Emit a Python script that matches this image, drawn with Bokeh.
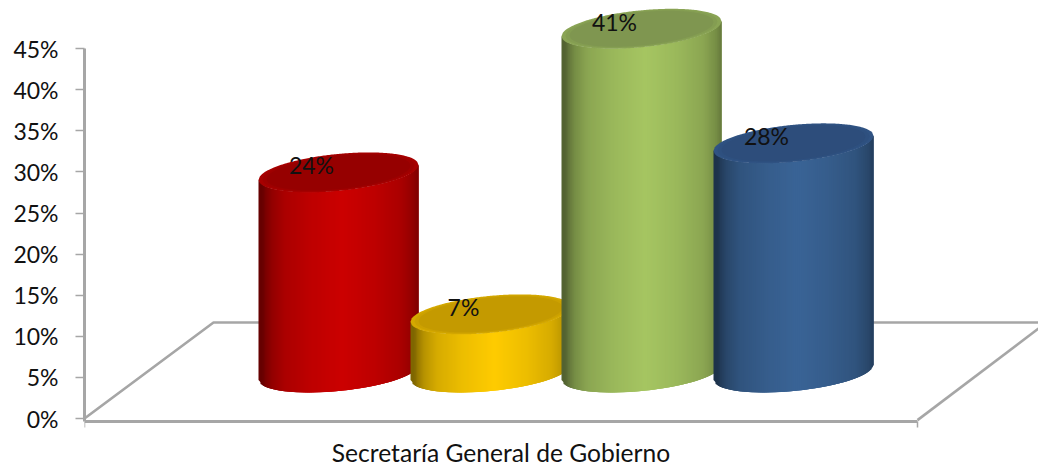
import numpy as np
from bokeh.embed import file_html
from bokeh.models import ColumnDataSource, FixedTicker, LinearAxis, Range1d
from bokeh.plotting import figure
from bokeh.resources import INLINE
from bokeh.core.properties import value

category = "Secretaría General de Gobierno"
shares = [24.1, 7.0, 41.4, 27.6]
y_ticks = [0, 5, 10, 15, 20, 25, 30, 35, 40, 45]

side_colors = [(204, 0, 0), (255, 204, 0), (166, 198, 98), (58, 100, 150)]
top_colors = [(150, 0, 0), (196, 154, 0), (127, 150, 80), (45, 77, 123)]

FONT = "Lato"
FS = "23px"
FS_CAT = "24.6px"
GREY = "#A6A6A6"
TEXT = "#111111"

W, H = 1038, 466
YMIN, YMAX = (418 - 466) / 8.22, 418 / 8.22
FLOOR_LINE = (418 - 420.5) / 8.22
p = figure(width=W, height=H, output_backend="svg", toolbar_location=None,
           min_border_left=84, min_border_right=0, min_border_top=0, min_border_bottom=0,
           x_range=Range1d(0, 954), y_range=Range1d(YMIN, YMAX),
           x_axis_type=None, y_axis_type=None,
           outline_line_color=None, background_fill_color="white", border_fill_color="white")
p.xgrid.visible = False
p.ygrid.visible = False

ya = LinearAxis(ticker=FixedTicker(ticks=y_ticks), bounds=(FLOOR_LINE, 45))
ya.major_label_overrides = {t: f"{t}%" for t in y_ticks}
ya.axis_line_color = GREY
ya.axis_line_width = 3
ya.major_tick_line_color = GREY
ya.major_tick_line_width = 1.5
ya.major_tick_out = 9
ya.major_tick_in = 0
ya.minor_tick_line_color = None
ya.major_label_standoff = 17
ya.major_label_text_font = FONT
ya.major_label_text_font_size = FS
ya.major_label_text_color = TEXT
p.add_layout(ya, "left")

AXIS_END = 833
xa = LinearAxis(ticker=FixedTicker(ticks=[0, AXIS_END]), bounds=(0, AXIS_END), fixed_location=FLOOR_LINE)
xa.major_label_overrides = {0: "", AXIS_END: ""}
xa.axis_line_color = GREY
xa.axis_line_width = 3
xa.major_tick_line_color = GREY
xa.major_tick_line_width = 1.5
xa.major_tick_out = 6
xa.major_tick_in = 0
xa.minor_tick_line_color = None
p.add_layout(xa, "below")

p.text([AXIS_END / 2], [(418 - 451.5) / 8.22], text=[category], text_font=value(FONT), text_font_size=value(FS_CAT),
       text_color=TEXT, text_align="center", text_baseline="middle")

# floor
BACK = 11.68
p.line([0, 129, 954], [0, BACK, BACK], line_color=GREY, line_width=2.6)
p.line([AXIS_END, 954], [-0.2, 10.95], line_color=GREY, line_width=2.6)

# cylinders
BASE = 5.6
STRETCH = 1.01
FIRST, STEP = 254, 151.6
HALF = 80
TILT, DEPTH = 7.5 / 8.22, 18.5 / 8.22
N = 80

edges = np.linspace(-1, 1, N + 1)
prof_t = [0, 0.4, 0.72, 0.88, 0.96, 1]
prof_l = [1, 0.93, 0.84, 0.72, 0.6, 0.5]

def hexcol(c):
    return "#%02x%02x%02x" % tuple(int(v) for v in c)

def front(u, cy, k=1.0):
    return cy + TILT * u - k * DEPTH * np.sqrt(np.clip(1 - u ** 2, 0, 1))

def back(u, cy, k=1.0):
    return cy + TILT * u + k * DEPTH * np.sqrt(np.clip(1 - u ** 2, 0, 1))

centers = [round(FIRST + i * STEP) for i in range(len(shares))]
for i, share in enumerate(shares):
    cx = centers[i]
    top = BASE + share * STRETCH
    xs, ys, cols = [], [], []
    for a, b in zip(edges[:-1], edges[1:]):
        b2 = min(b + 2 * (b - a), 1.0)   # overlap the next strip so no seam shows
        xs.append(list(cx + HALF * np.array([a, b2, b2, a])))
        ys.append([front(a, BASE), front(b2, BASE), front(b2, top), front(a, top)])
        m = abs((a + b) / 2 - 0.05)
        f = float(np.interp(m, prof_t, prof_l))
        cols.append(hexcol([c * f for c in side_colors[i]]))
    src = ColumnDataSource(dict(xs=xs, ys=ys, c=cols))
    p.patches("xs", "ys", source=src, fill_color="c", fill_alpha=1.0, line_color=None)
    # top face: soft rim blending towards the flat lid colour
    u = np.linspace(-1, 1, 121)
    for k, mix in [(1.0, 0.3), (0.95, 0.15), (0.9, 0.0)]:
        col = hexcol([t + mix * (s - t) for t, s in zip(top_colors[i], side_colors[i])])
        ex = np.concatenate([cx + HALF * k * u, cx + HALF * k * u[::-1]])
        ey = np.concatenate([back(u, top, k), front(u[::-1], top, k)])
        ey = ey - (1 - k) * TILT * np.concatenate([u, u[::-1]])
        p.patch(ex, ey, fill_color=col, fill_alpha=1.0, line_color=None)

lx = [c - 27 for c in centers]
ly = [BASE + s * STRETCH + 7 / 8.22 for s in shares]
lt = [f"{round(s)}%" for s in shares]
p.text(lx, ly, text=lt, text_font=value(FONT), text_font_size=value(FS), text_color=TEXT,
       text_align="center", text_baseline="middle")

open("out.html", "w").write(file_html(p, INLINE))
